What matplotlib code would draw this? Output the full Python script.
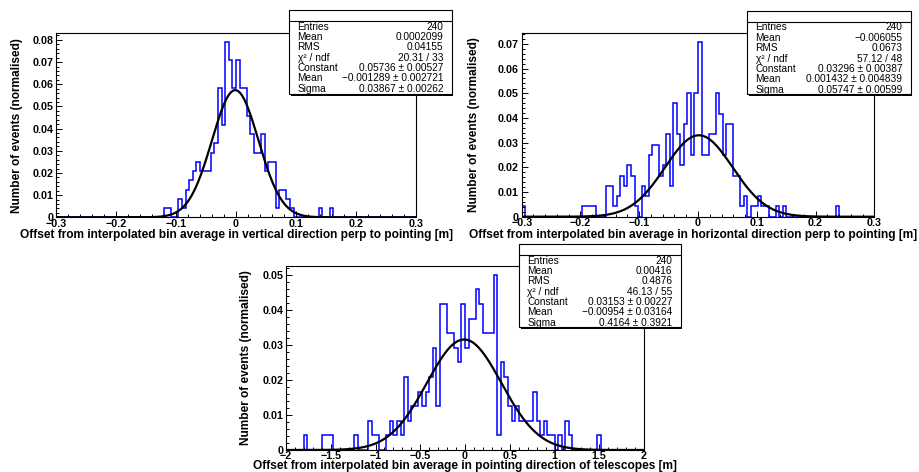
import numpy as np
import matplotlib
matplotlib.use('Agg')
import matplotlib.pyplot as plt
from matplotlib.patches import Rectangle
from matplotlib.lines import Line2D
from matplotlib.ticker import MultipleLocator, FuncFormatter

plt.rcParams['font.family'] = ['Liberation Sans', 'DejaVu Sans']
plt.rcParams['font.weight'] = 'bold'

W, H = 919, 472
n_entries = 240

# counts per bin (100 bins), drawn normalised by n_entries
vert_counts = [0, 0, 0, 0, 0, 0, 0, 0, 0, 0, 0, 0, 0, 0, 0, 0, 0, 0, 0, 0,
               0, 0, 0, 0, 0, 0, 0, 0, 0, 0, 1, 1, 0, 0, 2, 1, 3, 4, 5, 6,
               5, 5, 5, 7, 8, 14, 10, 19, 17, 14, 17, 14, 14, 11, 9, 7, 7, 9, 5, 6,
               6, 1, 3, 3, 2, 1, 0, 0, 0, 0, 0, 0, 0, 1, 0, 0, 1, 0, 0, 0,
               0, 0, 0, 0, 0, 0, 0, 0, 0, 0, 0, 0, 0, 0, 0, 0, 0, 0, 0, 0]
horiz_counts = [1, 0, 0, 0, 0, 0, 0, 0, 0, 0, 0, 0, 0, 0, 0, 0, 0, 1, 1, 1,
                1, 0, 0, 0, 3, 3, 1, 2, 4, 3, 5, 4, 1, 0, 3, 2, 6, 7, 7, 4,
                5, 8, 3, 11, 8, 5, 9, 12, 6, 12, 17, 6, 6, 8, 8, 12, 10, 6, 9, 9,
                4, 4, 1, 2, 0, 1, 1, 2, 1, 1, 0, 0, 1, 0, 1, 0, 0, 0, 0, 0,
                0, 0, 0, 0, 0, 0, 0, 0, 0, 1, 0, 0, 0, 0, 0, 0, 0, 0, 0, 0]
point_counts = [0, 0, 0, 0, 0, 1, 0, 0, 0, 0, 1, 1, 1, 0, 0, 0, 0, 0, 0, 1,
                0, 0, 0, 2, 1, 1, 0, 0, 1, 2, 1, 2, 1, 5, 2, 3, 3, 4, 3, 4,
                5, 7, 3, 10, 10, 8, 8, 7, 6, 10, 7, 9, 9, 11, 10, 8, 8, 8, 12, 1,
                6, 5, 3, 2, 3, 2, 2, 2, 2, 4, 2, 1, 2, 1, 1, 0, 1, 0, 2, 1,
                0, 0, 0, 0, 0, 0, 0, 1, 0, 0, 0, 0, 0, 0, 0, 0, 0, 0, 0, 0]

# gaussian fit results: constant, mean, sigma
vert_fit = (0.05736, -0.001289, 0.03867)
horiz_fit = (0.03296, 0.001432, 0.05747)
point_fit = (0.03153, -0.00954, 0.4164)

stat_names = ['Entries', 'Mean', 'RMS', '\u03c7\u00b2 / ndf', 'Constant', 'Mean', 'Sigma']
vert_stats = ['240', '0.0002099', '0.04155', '20.31 / 33', '0.05736 \u00b1 0.00527',
              '\u22120.001289 \u00b1 0.002721', '0.03867 \u00b1 0.00262']
horiz_stats = ['240', '\u22120.006055', '0.0673', '57.12 / 48', '0.03296 \u00b1 0.00387',
               '0.001432 \u00b1 0.004839', '0.05747 \u00b1 0.00599']
point_stats = ['240', '0.00416', '0.4876', '46.13 / 55', '0.03153 \u00b1 0.00227',
               '\u22120.00954 \u00b1 0.03164', '0.4164 \u00b1 0.3921']

ytitle = 'Number of events (normalised)'
vert_xtitle = 'Offset from interpolated bin average in vertical direction perp to pointing [m]'
horiz_xtitle = 'Offset from interpolated bin average in horizontal direction perp to pointing [m]'
point_xtitle = 'Offset from interpolated bin average in pointing direction of telescopes [m]'


def fig_rect(l, t, r, b):
    return [l / W, 1 - b / H, (r - l) / W, (b - t) / H]


def tick_fmt(v, pos):
    return ('%g' % v).replace('-', '\u2212')


def draw_hist(fig, rect, counts, xlo, xhi, fit, xmaj, xmin_, xtitle, xtitle_pos, ytitle_x):
    ax = fig.add_axes(fig_rect(*rect))
    edges = np.linspace(xlo, xhi, len(counts) + 1)
    vals = np.array(counts) / n_entries
    ax.stairs(vals, edges, color='#0000ff', lw=1.1, baseline=0)
    xs = np.linspace(xlo, xhi, 800)
    c, mu, s = fit
    ax.plot(xs, c * np.exp(-0.5 * ((xs - mu) / s) ** 2), color='black', lw=1.6)
    ax.set_xlim(xlo, xhi)
    ax.set_ylim(0, vals.max() * 1.05)
    ax.xaxis.set_major_locator(MultipleLocator(xmaj))
    ax.xaxis.set_minor_locator(MultipleLocator(xmin_))
    ax.yaxis.set_major_locator(MultipleLocator(0.01))
    ax.yaxis.set_minor_locator(MultipleLocator(0.002))
    ax.xaxis.set_major_formatter(FuncFormatter(tick_fmt))
    ax.yaxis.set_major_formatter(FuncFormatter(tick_fmt))
    ax.tick_params(which='both', direction='in', top=False, right=False, labelsize=7.7)
    ax.tick_params(which='major', length=4.3, width=0.7)
    ax.tick_params(which='minor', length=2.2, width=0.7)
    ax.tick_params(axis='x', pad=1.0)
    ax.tick_params(axis='y', pad=2.0)
    for sp in ax.spines.values():
        sp.set_linewidth(0.8)
    l, t, r, b = rect
    fig.text(xtitle_pos[0] / W, 1 - xtitle_pos[1] / H, xtitle, ha='center', va='center',
             fontsize=8.6)
    fig.text(ytitle_x / W, 1 - (t + b) / 2 / H, ytitle, ha='center', va='center',
             rotation=90, fontsize=8.6)
    return ax


def draw_stats(fig, box, values):
    l, t, r, b = box
    fig.add_artist(Rectangle(((l + 1.5) / W, 1 - (b + 1.5) / H), (r - l) / W, (b - t) / H,
                             transform=fig.transFigure, facecolor='black', lw=0, zorder=10))
    fig.add_artist(Rectangle((l / W, 1 - b / H), (r - l) / W, (b - t) / H,
                             transform=fig.transFigure, facecolor='white', edgecolor='black',
                             lw=0.8, zorder=11))
    fig.add_artist(Line2D([l / W, r / W], [1 - (t + 11) / H] * 2, transform=fig.transFigure,
                          color='black', lw=0.8, zorder=12))
    for i, (name, val) in enumerate(zip(stat_names, values)):
        y = 1 - (t + 16.5 + i * 10.35) / H
        fig.text((l + 8.3) / W, y, name, ha='left', va='center', fontsize=7.3,
                 fontweight='normal', zorder=13)
        fig.text((r - 8.4) / W, y, val, ha='right', va='center', fontsize=7.3,
                 fontweight='normal', zorder=13)


fig = plt.figure(figsize=(W / 100, H / 100), dpi=100)
fig.patch.set_facecolor('white')

draw_hist(fig, (56, 33, 416, 217.3), vert_counts, -0.3, 0.3, vert_fit, 0.1, 0.02,
          vert_xtitle, (236, 235), 17)
draw_hist(fig, (521.7, 33, 874.3, 216.7), horiz_counts, -0.3, 0.3, horiz_fit, 0.1, 0.02,
          horiz_xtitle, (693, 235), 474)
draw_hist(fig, (286, 266, 644, 450), point_counts, -2, 2, point_fit, 0.5, 0.1,
          point_xtitle, (465, 466), 246)

draw_stats(fig, (289.3, 10, 451.7, 94), vert_stats)
draw_stats(fig, (747.3, 11, 910.7, 94.3), horiz_stats)
draw_stats(fig, (519, 244, 680.7, 327.3), point_stats)

fig.savefig('out.png', dpi=100)
